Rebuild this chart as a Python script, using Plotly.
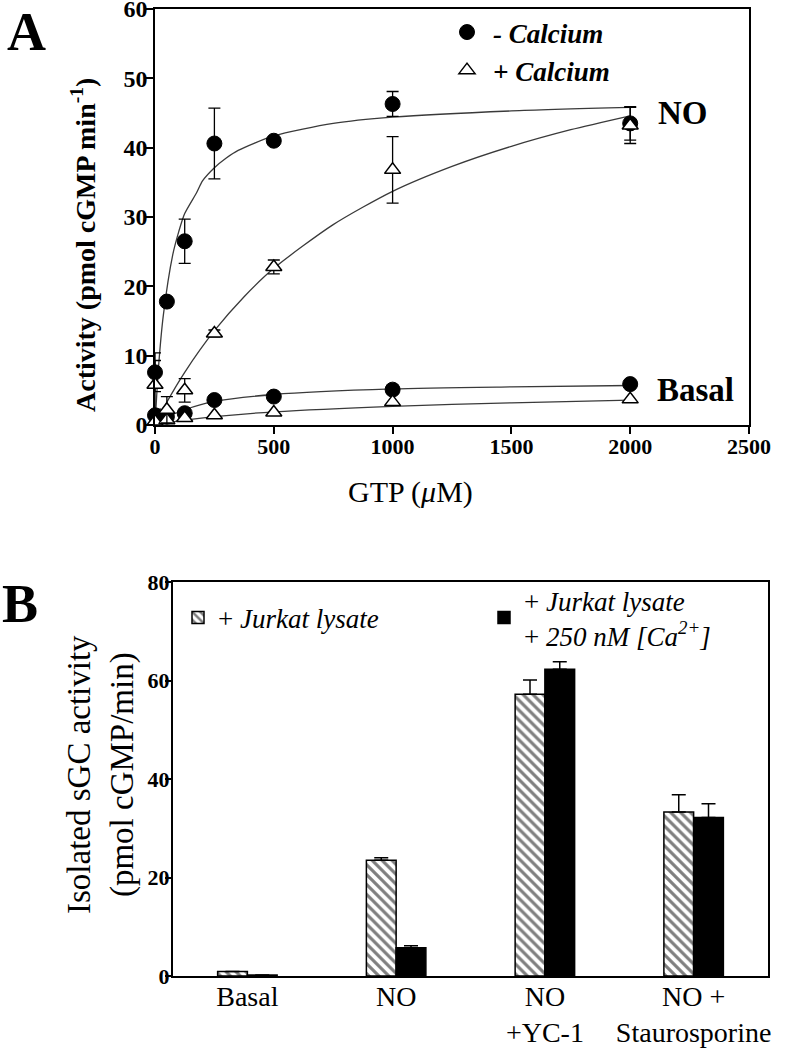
import plotly.graph_objects as go

# ---------------- Panel A data ----------------
gtp = [0, 50, 125, 250, 500, 1000, 2000]
no_minus_ca = [7.6, 17.8, 26.5, 40.6, 41.0, 46.3, 43.5]
no_minus_ca_err = [2.8, 0.0, 3.2, 5.1, 0.3, 1.8, 2.4]
no_plus_ca = [5.8, 2.2, 5.0, 13.2, 22.8, 36.8, 43.2]
no_plus_ca_err = [3.5, 1.9, 1.7, 0.5, 1.0, 4.8, 2.6]
basal_minus_ca = [1.4, 1.2, 1.7, 3.6, 4.1, 5.1, 5.9]
basal_plus_ca = [0.5, 0.7, 1.0, 1.4, 1.8, 3.3, 3.7]

# fitted curves
fit_no_minus_x = [0, 15, 35, 75, 100, 125, 175, 200, 250, 300, 350, 500, 750, 1000, 1500, 2000]
fit_no_minus_y = [0, 8.4, 15.8, 24.6, 27.9, 30.5, 33.5, 35.2, 37.1, 38.5, 39.6, 41.7, 43.5, 44.4, 45.3, 45.8]
fit_no_plus_x = [0, 50, 125, 250, 375, 500, 750, 1000, 1250, 1500, 1750, 2000]
fit_no_plus_y = [0, 3.3, 7.6, 13.6, 18.5, 22.6, 28.9, 33.7, 37.3, 40.2, 42.6, 44.6]
fit_basal_minus_x = [0, 50, 125, 250, 500, 1000, 1500, 2000]
fit_basal_minus_y = [0, 1.1, 2.2, 3.4, 4.4, 5.2, 5.5, 5.7]
fit_basal_plus_x = [0, 50, 125, 250, 500, 1000, 1500, 2000]
fit_basal_plus_y = [0, 0.3, 0.7, 1.2, 1.9, 2.7, 3.2, 3.6]

x_ticks_a = [0, 500, 1000, 1500, 2000, 2500]
y_ticks_a = [0, 10, 20, 30, 40, 50, 60]

# ---------------- Panel B data ----------------
conditions = ["Basal", "NO", "NO<br>+YC-1", "NO +<br>Staurosporine"]
lysate = [0.9, 23.5, 57.2, 33.3]
lysate_err = [0, 0.5, 2.9, 3.5]
lysate_ca = [0.2, 5.75, 62.3, 32.2]
lysate_ca_err = [0, 0.4, 1.5, 2.8]
y_ticks_b = [0, 20, 40, 60, 80]

W, H = 789, 1050
FONT = "Liberation Serif, Times New Roman, serif"


def px(x):
    return x / W


def py(y):
    return 1 - y / H


fig = go.Figure()

# fitted lines
for fx, fy in [(fit_no_minus_x, fit_no_minus_y), (fit_no_plus_x, fit_no_plus_y),
               (fit_basal_minus_x, fit_basal_minus_y), (fit_basal_plus_x, fit_basal_plus_y)]:
    fig.add_trace(go.Scatter(x=fx, y=fy, mode="lines", showlegend=False,
                             line=dict(color="#3a3a3a", width=1.3, shape="spline", smoothing=0.7),
                             xaxis="x", yaxis="y", hoverinfo="skip"))

circle_marker = dict(symbol="circle", size=15, color="black", line=dict(color="black", width=1))
tri_marker = dict(symbol="triangle-up", size=14, color="white", line=dict(color="black", width=1.5))
err_style = dict(color="black", thickness=1.3, width=6)

fig.add_trace(go.Scatter(x=gtp, y=basal_minus_ca, mode="markers", marker=circle_marker,
                         showlegend=False, cliponaxis=False, xaxis="x", yaxis="y"))
fig.add_trace(go.Scatter(x=gtp, y=no_minus_ca, mode="markers", marker=circle_marker,
                         error_y=dict(type="data", array=no_minus_ca_err, **err_style),
                         name="<b><i>- Calcium</i></b>", legend="legend", cliponaxis=False,
                         xaxis="x", yaxis="y"))
fig.add_trace(go.Scatter(x=gtp, y=basal_plus_ca, mode="markers", marker=tri_marker,
                         showlegend=False, cliponaxis=False, xaxis="x", yaxis="y"))
fig.add_trace(go.Scatter(x=gtp, y=no_plus_ca, mode="markers", marker=tri_marker,
                         error_y=dict(type="data", array=no_plus_ca_err, **err_style),
                         name="<b><i>+ Calcium</i></b>", legend="legend", cliponaxis=False,
                         xaxis="x", yaxis="y"))

# bars
fig.add_trace(go.Bar(x=conditions, y=lysate, name="+ <i>Jurkat lysate</i>", legend="legend2",
                     marker=dict(color="white", line=dict(color="black", width=1.5),
                                 pattern=dict(shape="\\", fgcolor="black", bgcolor="white",
                                              size=7, solidity=0.45)),
                     error_y=dict(type="data", array=lysate_err, arrayminus=[0] * 4, symmetric=False,
                                  color="black", thickness=1.5, width=7),
                     xaxis="x2", yaxis="y2"))
fig.add_trace(go.Bar(x=conditions, y=lysate_ca,
                     name="+ <i>Jurkat lysate</i><br>+ <i>250 nM [Ca<sup>2+</sup>]</i>", legend="legend3",
                     marker=dict(color="black", line=dict(color="black", width=1.5)),
                     error_y=dict(type="data", array=lysate_ca_err, arrayminus=[0] * 4, symmetric=False,
                                  color="black", thickness=1.5, width=7),
                     xaxis="x2", yaxis="y2"))

axis_common = dict(showline=True, linecolor="black", mirror=True, showgrid=False, zeroline=False,
                   ticks="outside", tickcolor="black", automargin=False, ticklabeloverflow="allow")


def ann(text, x, y, size, angle=0, yanchor="middle"):
    return dict(text=text, x=px(x), y=py(y), xref="paper", yref="paper", showarrow=False,
                xanchor="center", yanchor=yanchor, textangle=angle,
                font=dict(family=FONT, size=size, color="black"))


fig.update_layout(
    width=W, height=H, margin=dict(l=0, r=0, t=0, b=0, autoexpand=False),
    plot_bgcolor="white", paper_bgcolor="white",
    font=dict(family=FONT, color="black"),
    barmode="group", bargap=0.6, bargroupgap=0,
    xaxis=dict(domain=[px(155), px(749)], range=[0, 2500], tickvals=x_ticks_a, anchor="y",
               linewidth=1.5, ticklen=7, tickwidth=1.5, ticklabelstandoff=-6,
               tickfont=dict(family=FONT, size=22, weight="bold"), **axis_common),
    yaxis=dict(domain=[py(425), py(9)], range=[0, 60], tickvals=y_ticks_a, anchor="x",
               linewidth=1.5, ticklen=7, tickwidth=1.5, ticklabelstandoff=-6,
               tickfont=dict(family=FONT, size=24, weight="bold"), **axis_common),
    xaxis2=dict(domain=[px(173), px(768)], type="category", anchor="y2",
                showline=True, linecolor="black", linewidth=2, mirror=True, showgrid=False,
                zeroline=False, ticks="", ticklabelstandoff=-6, automargin=False,
                ticklabeloverflow="allow", tickfont=dict(family=FONT, size=28)),
    yaxis2=dict(domain=[py(976), py(582)], range=[0, 80], tickvals=y_ticks_b, anchor="x2",
                linewidth=2, ticklen=6, tickwidth=2, ticklabelstandoff=-9,
                tickfont=dict(family=FONT, size=22, weight="bold"), **axis_common),
    legend=dict(x=px(441), y=py(8), xanchor="left", yanchor="top", bgcolor="rgba(0,0,0,0)",
                font=dict(family=FONT, size=27), tracegroupgap=0, itemwidth=42),
    legend2=dict(x=px(178), y=py(618), xanchor="left", yanchor="middle", bgcolor="rgba(0,0,0,0)",
                 font=dict(family=FONT, size=27)),
    legend3=dict(x=px(484), y=py(618), xanchor="left", yanchor="middle", bgcolor="rgba(0,0,0,0)",
                 font=dict(family=FONT, size=27)),
    annotations=[
        ann("<b>A</b>", 26, 0, 54, yanchor="top"),
        ann("<b>B</b>", 20, 604, 54),
        ann("<b>NO</b>", 683, 113, 33),
        ann("<b>Basal</b>", 695, 390, 33),
        ann("<b>Activity (pmol cGMP min<sup>-1</sup>)</b>", 83, 245, 28, -90),
        ann("GTP (<i>\u03bc</i>M)", 410, 492, 30),
        ann("Isolated sGC activity<br>(pmol cGMP/min)", 101, 775, 33, -90),
    ],
)

fig.write_html("out.html", config={"displayModeBar": False},
               post_script="document.body.style.margin='0px';")
